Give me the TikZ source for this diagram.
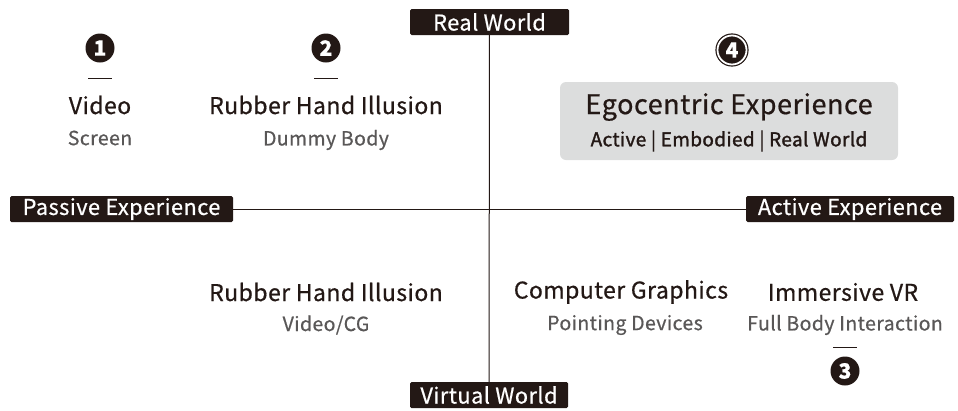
\documentclass[tikz,border=0pt]{standalone}
\usepackage{fontspec}
\setmainfont{Noto Sans CJK JP}[FakeBold=0.6,LetterSpace=2]
\definecolor{ink}{HTML}{231815}
\definecolor{subgray}{HTML}{595757}
\definecolor{boxgray}{HTML}{DCDDDD}
\begin{document}
\begin{tikzpicture}[x=1pt,y=-1pt,
  axislabel/.style={fill=ink,text=white,rounded corners=1.5pt,inner xsep=0pt,inner ysep=2pt,
    font=\fontsize{21.8}{21.8}\selectfont,minimum height=26pt},
  title/.style={text=ink,font=\fontsize{23}{23}\selectfont,inner sep=0pt},
  sub/.style={text=subgray,font=\fontsize{19.5}{19.5}\selectfont,inner sep=0pt},
  badge/.style={circle,fill=ink,text=white,inner sep=0pt,minimum size=29pt,
    font=\fontsize{21}{21}\selectfont\bfseries},
  tick/.style={draw=ink,line width=1pt},
  axis/.style={draw=ink,line width=1pt}]
\useasboundingbox (0,0) rectangle (958,410);

% axis labels
\node[axislabel,minimum width=159pt] (real) at (489.5,22) {Real World};
\node[axislabel,minimum width=158pt] (virtual) at (489,395) {Virtual World};
\node[axislabel,minimum width=223pt] (passive) at (121.5,209) {Passive Experience};
\node[axislabel,minimum width=208pt] (active) at (850,209) {Active Experience};

% axes
\draw[axis] (real) -- (virtual);
\draw[axis] (passive) -- (active);

% quadrant 1: video
\node[badge] (b1) at (100,48) {1};
\draw[tick] (88,78) coordinate (t1a) -- (112,78) coordinate (t1b);
\node[title] (video) at (100,105) {Video};
\node[sub] (screen) at (100,138) {Screen};

% quadrant 2: rubber hand, dummy body
\node[badge] (b2) at (326,48) {2};
\draw[tick] (314,78) coordinate (t2a) -- (338,78) coordinate (t2b);
\node[title] (rhi1) at (326,105) {Rubber Hand Illusion};
\node[sub] (dummy) at (326,140) {Dummy Body};

% quadrant 4: egocentric experience
\node[circle,fill=ink,draw=ink,line width=1.2pt,double=white,double distance=1.8pt,
  text=white,inner sep=0pt,minimum size=29pt,font=\fontsize{21}{21}\selectfont\bfseries] (b4) at (732,50) {4};
\node[fill=boxgray,rounded corners=6pt,minimum width=338pt,minimum height=78pt] (ego) at (729,121) {};
\node[text=ink,font=\fontsize{27}{27}\selectfont,inner sep=0pt] (egotitle) at (729,107) {Egocentric Experience};
\node[text=ink,font=\fontsize{19}{19}\selectfont\addfontfeature{FakeBold=1.6},inner sep=0pt] (egosub) at (729,141)
  {Active {\addfontfeature{FakeBold=0.2}|} Embodied {\addfontfeature{FakeBold=0.2}|} Real World};

% lower half
\node[title] (rhi2) at (326,292) {Rubber Hand Illusion};
\node[sub] (vcg) at (326,325) {Video/CG};
\node[title] (cg) at (621,292) {Computer Graphics};
\node[sub] (pd) at (625,325) {Pointing Devices};
\node[title] (ivr) at (843,292) {Immersive VR};
\node[sub] (fbi) at (845,325) {Full Body Interaction};
\draw[tick] (833,347) coordinate (t3a) -- (857,347) coordinate (t3b);
\node[badge] (b3) at (845,371) {3};
\end{tikzpicture}
\end{document}
